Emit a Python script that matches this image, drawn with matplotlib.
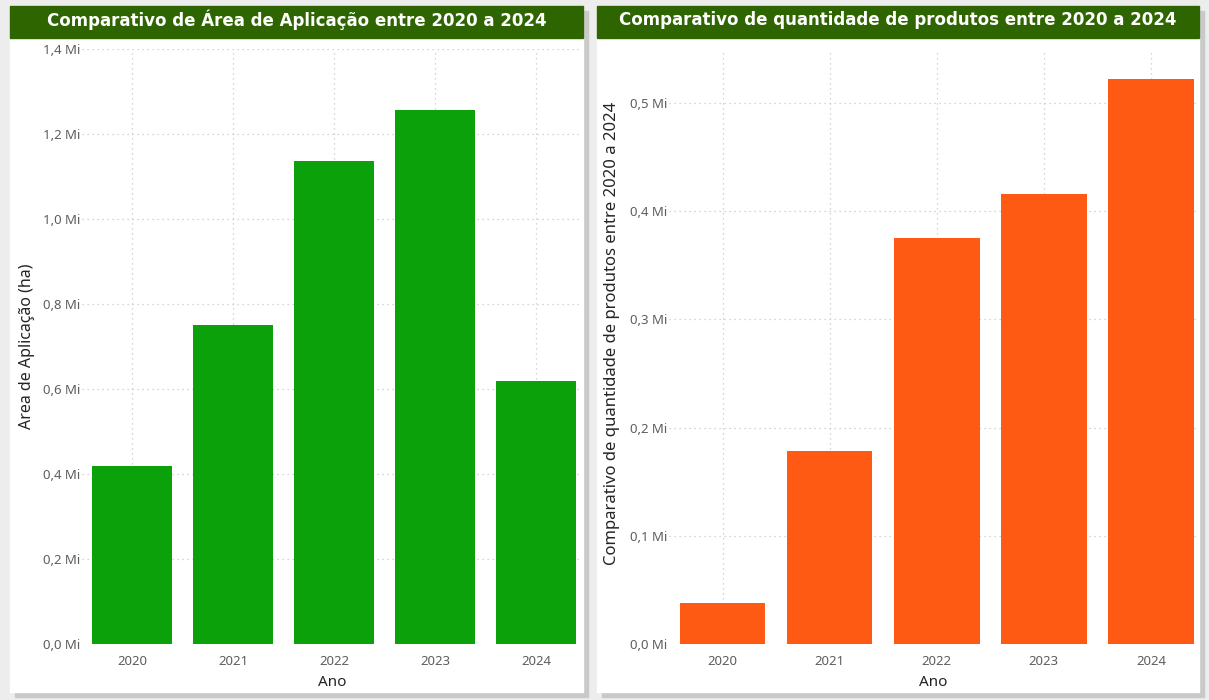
import matplotlib
matplotlib.use('Agg')
import matplotlib.pyplot as plt
from matplotlib.patches import Rectangle
from matplotlib.ticker import FuncFormatter

anos = ['2020', '2021', '2022', '2023', '2024']
area_aplicacao = [0.419, 0.751, 1.136, 1.256, 0.619]
qtd_produtos = [0.038, 0.178, 0.375, 0.416, 0.522]

W, H = 1209, 700
fig = plt.figure(figsize=(W / 100, H / 100), dpi=100)
fig.patch.set_facecolor('#EDEDED')

plt.rcParams['font.family'] = ['Noto Sans', 'DejaVu Sans']

def px_rect(x0, y0, x1, y1):
    # pixel box (top-left origin) -> figure fraction
    return [x0 / W, 1 - y1 / H, (x1 - x0) / W, (y1 - y0) / H]

def card(x0, y0, x1, y1, title, tx):
    # shadow + white card + title bar
    fig.patches.append(Rectangle((x0 / W + 0.004, 1 - (y1 + 5) / H), (x1 - x0) / W, (y1 - y0) / H,
                                 transform=fig.transFigure, color='#C9C9C9', zorder=0))
    fig.patches.append(Rectangle((x0 / W, 1 - y1 / H), (x1 - x0) / W, (y1 - y0) / H,
                                 transform=fig.transFigure, color='white', zorder=0.5))
    fig.patches.append(Rectangle((x0 / W, 1 - 38 / H), (x1 - x0) / W, 32 / H,
                                 transform=fig.transFigure, color='#2E6500', zorder=1))
    fig.text(tx / W, 1 - 20 / H, title, color='white', fontsize=12, fontweight='bold',
             family='DejaVu Sans', ha='center', va='center', zorder=2)

card(10, 6, 583, 692, 'Comparativo de Área de Aplicação entre 2020 a 2024', 297)
card(597, 6, 1199, 692, 'Comparativo de quantidade de produtos entre 2020 a 2024', 898)

fmt = FuncFormatter(lambda v, p: f'{v:.1f} Mi'.replace('.', ','))

def bar_panel(rect, values, color, ymax, step, nt, xmax, ylabel, lsize, lx, ly):
    ax = fig.add_axes(rect)
    ax.set_zorder(5)
    ax.set_facecolor('none')
    x = range(len(anos))
    ax.bar(x, values, width=0.8, color=color, zorder=3)
    ax.set_xlim(-0.5, xmax)
    ax.set_ylim(0, ymax)
    ax.set_xticks(list(x))
    ax.set_xticklabels(anos)
    ax.set_yticks([i * step for i in range(nt)])
    ax.yaxis.set_major_formatter(fmt)
    ax.grid(True, color='#C8C8C8', linestyle=(0, (1, 3)), linewidth=0.9, zorder=0)
    ax.set_axisbelow(True)
    for s in ax.spines.values():
        s.set_visible(False)
    ax.tick_params(axis='y', length=0, colors='#605E5C', labelsize=9.5, pad=1)
    ax.tick_params(axis='x', length=0, colors='#605E5C', labelsize=9.5, pad=8)
    ax.set_xlabel('Ano', fontsize=11, color='#252423', labelpad=5)
    ax.set_ylabel(ylabel, fontsize=lsize, color='#252423')
    ax.yaxis.set_label_coords(lx, ly)
    return ax

ax1 = bar_panel(px_rect(81.5, 49, 582, 644), area_aplicacao, '#0BA10B', 1.4, 0.2, 8, 4.455,
                'Area de Aplicação (ha)', 11.5, -0.093, 0.50)
ax2 = bar_panel(px_rect(669, 50, 1198, 644), qtd_produtos, '#FF5A14', 0.549, 0.1, 6, 4.44,
                'Comparativo de quantidade de produtos entre 2020 a 2024', 12, -0.093, 0.523)

fig.savefig('out.png', dpi=100, facecolor=fig.get_facecolor())
